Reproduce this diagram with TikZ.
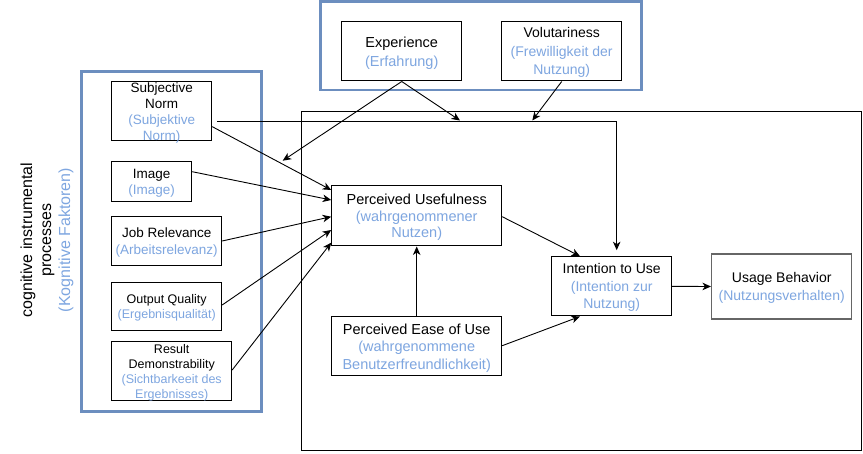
\documentclass[tikz,border=0pt]{standalone}
\usepackage{fontspec}
\setmainfont{Liberation Sans}
\usetikzlibrary{arrows.meta,calc}
\definecolor{tblue}{HTML}{7EA6E0}
\definecolor{frameblue}{HTML}{6C8EBF}
\definecolor{ubgray}{HTML}{666666}
\newcommand{\bt}[1]{\textcolor{tblue}{#1}}
\newcommand{\fs}[2]{\fontsize{#1}{#2}\selectfont}
\begin{document}
\begin{tikzpicture}[x=1pt,y=-1pt,
  box/.style={draw=black, fill=white, line width=1pt, align=center, inner sep=0pt, text=black, text depth=0pt},
  bframe/.style={draw=frameblue, line width=2.8pt},
  plainframe/.style={draw=black, line width=1pt},
  arr/.style={draw=black, line width=0.9pt, -{Stealth[length=8.5pt,width=7.5pt,inset=2.5pt]}},
  conn/.style={draw=black, line width=0.9pt}
]
\useasboundingbox (0,0) rectangle (863,454);
% frames
\draw[plainframe] (301.7,111.7) rectangle (861.3,451);
\draw[bframe] (81.7,71.7) rectangle (261.7,411.3);
\draw[bframe] (320.7,1.7) rectangle (641.7,90);

% rotated label
\node[align=center, rotate=90, inner sep=0pt, font=\fs{16}{19}] (lbl) at (47,240)
  {cognitive instrumental\\processes\\\bt{(Kognitive Faktoren)}};

% top boxes
\node[box, minimum width=120pt, minimum height=59.3pt, font=\fs{14.5}{19}] (exp) at (401.7,51.35)
  {Experience\\\bt{(Erfahrung)}};
\node[box, minimum width=120pt, minimum height=59.3pt, font=\fs{14}{18.5}] (vol) at (561.7,51.35)
  {Volutariness\\\bt{(Frewilligkeit der}\\\bt{Nutzung)}};

% left boxes
\node[box, minimum width=100pt, minimum height=59.3pt, font=\fs{13.5}{16}] (sn) at (161.7,111.35)
  {Subjective\\Norm\\\bt{(Subjektive}\\\bt{Norm)}};
\node[box, minimum width=80pt, minimum height=39.6pt, font=\fs{13.5}{16}] (img) at (151.7,181.5)
  {Image\\\bt{(Image)}};
\node[box, minimum width=110pt, minimum height=49.3pt, font=\fs{13.5}{17}] (jr) at (166.7,241.35)
  {Job Relevance\\\bt{(Arbeitsrelevanz)}};
\node[box, minimum width=110pt, minimum height=48.3pt, font=\fs{12.5}{15}] (oq) at (166.7,306.85)
  {Output Quality\\\bt{(Ergebnisqualität)}};
\node[box, minimum width=120pt, minimum height=59.3pt, font=\fs{12.5}{15}] (rd) at (171.7,371.35)
  {Result\\Demonstrability\\\bt{(Sichtbarkeeit des}\\\bt{Ergebnisses)}};

% central boxes
\node[box, minimum width=170pt, minimum height=60pt, font=\fs{14.5}{16.5}] (pu) at (416.7,216)
  {Perceived Usefulness\\\bt{(wahrgenommener}\\\bt{Nutzen)}};
\node[box, minimum width=170pt, minimum height=59.3pt, font=\fs{14.5}{17.5}] (peou) at (416.7,346.35)
  {Perceived Ease of Use\\\bt{(wahrgenommene}\\\bt{Benutzerfreundlichkeit)}};
\node[box, minimum width=120pt, minimum height=59.3pt, font=\fs{14}{17.5}] (itu) at (611.7,286.35)
  {Intention to Use\\\bt{(Intention zur}\\\bt{Nutzung)}};
\node[box, draw=ubgray, line width=1.5pt, minimum width=140pt, minimum height=65pt, font=\fs{14}{18.5}] (ub) at (781.7,286.5)
  {Usage Behavior\\\bt{(Nutzungsverhalten)}};

% free ends
\coordinate (expL) at (282.7,160.7);
\coordinate (expR) at (460,120.5);
\coordinate (volE) at (532.3,120.5);

% connectors
\draw[arr] (exp.south) -- (expL);
\draw[arr] (exp.south) -- (expR);
\draw[arr] (vol.south) -- (volE);

\draw[arr, shorten >=6pt] ([xshift=5pt,yshift=-9.65pt]sn.east) -| ([xshift=5pt]itu.north);

\draw[arr] ([yshift=-15.3pt]sn.east) -- ([yshift=26pt]pu.west);
\draw[arr] ([yshift=9.8pt]img.east) -- ([yshift=16pt]pu.west);
\draw[arr] ([yshift=0.35pt]jr.east) -- ([yshift=-0.7pt]pu.west);
\draw[arr] ([yshift=1.85pt]oq.east) -- ([yshift=-14pt]pu.west);
\draw[arr] ([yshift=1.35pt]rd.east) -- ([yshift=-26.7pt]pu.west);

\draw[arr] (peou.north) -- (pu.south);
\draw[arr] ([yshift=-0.7pt]pu.east) -- ([xshift=-31.7pt]itu.north);
\draw[arr] ([yshift=0.65pt]peou.east) -- ([xshift=-31.7pt]itu.south);
\draw[arr] (itu.east) -- (ub.west);
\end{tikzpicture}
\end{document}
